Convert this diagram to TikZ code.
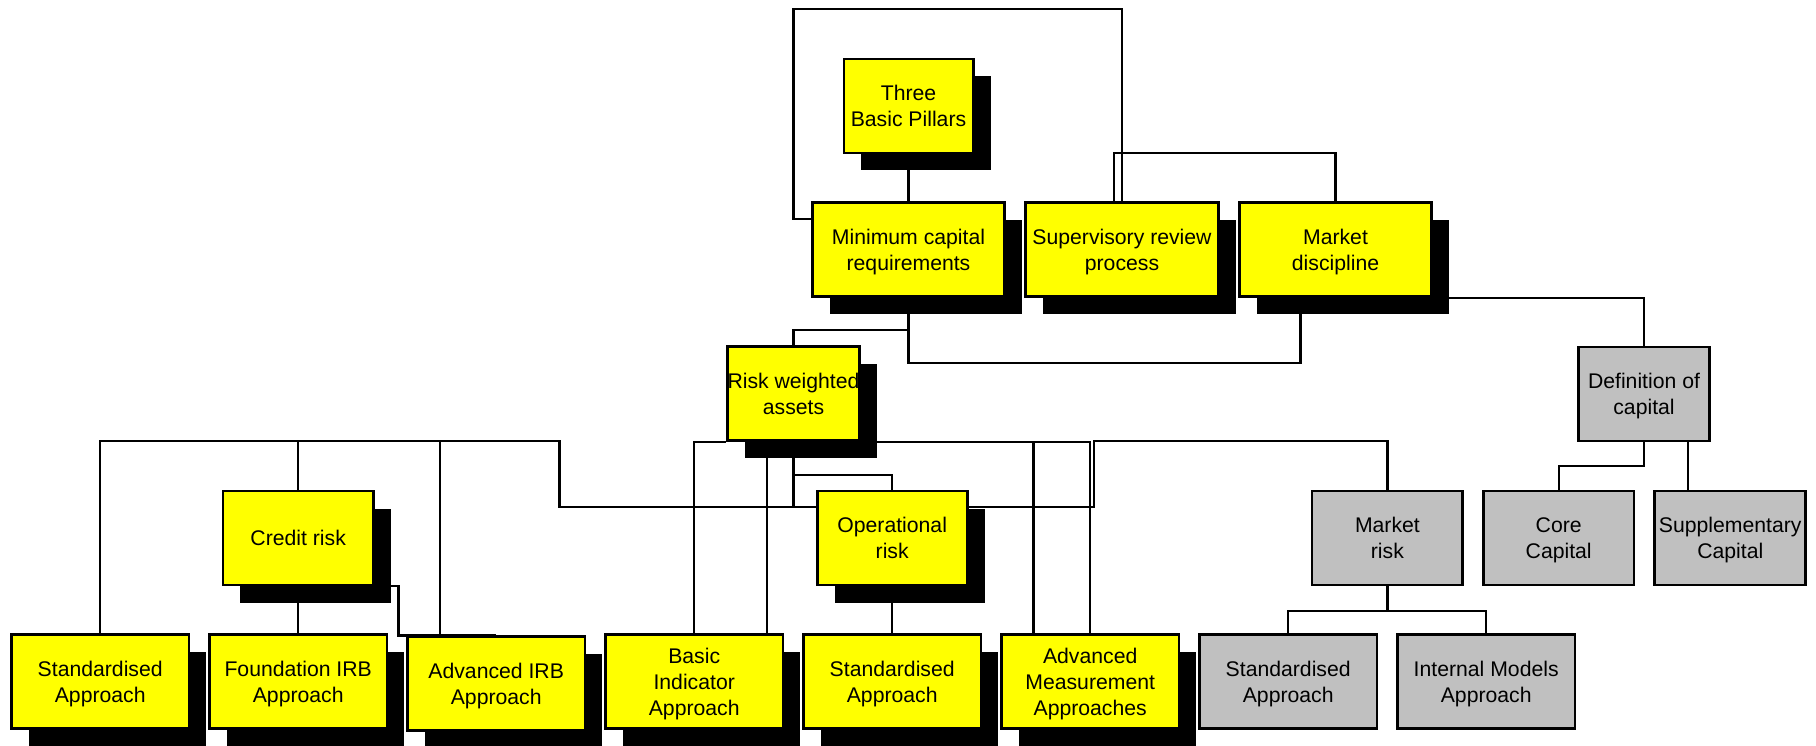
\documentclass[tikz,border=0pt]{standalone}
\usepackage{fontspec}
\setmainfont{Liberation Sans}
\usepackage{tikz}
\usetikzlibrary{positioning,shadows,backgrounds}
\definecolor{pillaryellow}{RGB}{255,255,0}
\definecolor{boxgray}{RGB}{192,192,192}

\begin{document}
\begin{tikzpicture}[
  x=1pt, y=-1pt,
  box/.style={draw, line width=2.6pt, inner sep=0pt, align=center,
              minimum height=94pt, text depth=-8.2pt,
              font=\fontsize{21.2}{26}\selectfont},
  ybox/.style={box, fill=pillaryellow,
               drop shadow={shadow xshift=17.5pt, shadow yshift=-17.5pt,
                            fill=black, opacity=1}},
  gbox/.style={box, fill=boxgray},
  link/.style={line width=2.2pt},
  node distance=18pt]

  \useasboundingbox (0,0) rectangle (1816,746);

  % Pillars
  \node[ybox, minimum width=192.5pt] (mcr) at (908.5,249.7) {Minimum capital\\requirements};
  \node[ybox, minimum width=192.5pt, right=18.4pt of mcr] (spr) {Supervisory review\\process};
  \node[ybox, minimum width=192.5pt, right=18.4pt of spr] (mdi) {Market\\discipline};
  \node[ybox, minimum width=129.4pt, above=47.1pt of mcr] (tbp) {Three\\Basic Pillars};

  \node[ybox, minimum width=131pt] (rwa) at (793.5,393.7) {Risk weighted\\assets};
  \node[gbox, minimum width=131pt] (dfc) at (1644,394) {Definition of\\capital};

  % Approaches (bottom row)
  \node[ybox, minimum width=177.4pt] (sa1) at (100.2,681.7) {Standardised\\Approach};
  \node[ybox, minimum width=177.4pt, right=of sa1] (fir) {Foundation IRB\\Approach};
  \node[ybox, minimum width=177.4pt, right=of fir, yshift=-2pt] (air) {Advanced IRB\\Approach};
  \node[ybox, minimum width=177.4pt, right=of fir, xshift=198pt] (bia) {Basic\\Indicator\\Approach};
  \node[ybox, minimum width=177.4pt, right=of bia] (sa2) {Standardised\\Approach};
  \node[ybox, minimum width=177.4pt, right=of sa2] (ama) {Advanced\\Measurement\\Approaches};
  \node[gbox, minimum width=177.4pt, right=of ama] (sa3) {Standardised\\Approach};
  \node[gbox, minimum width=177.4pt, right=of sa3] (ima) {Internal Models\\Approach};

  % Risk types and capital
  \node[ybox, minimum width=150.5pt, above=47.1pt of fir] (crs) {Credit risk};
  \node[ybox, minimum width=150pt, above=47.1pt of sa2] (opr) {Operational\\risk};
  \node[gbox, minimum width=150.5pt] (mkr) at (1387.4,538) {Market\\risk};
  \node[gbox, minimum width=150.5pt, right=18.2pt of mkr] (cor) {Core\\Capital};
  \node[gbox, minimum width=151pt, right=18.2pt of cor] (sup) {Supplementary\\Capital};

  \coordinate (lbus) at (559.4,441);
  \coordinate (rjog) at (1094,507.3);

  % connectors run behind the boxes
  \begin{scope}[on background layer]
    \draw[link] (tbp.south) -- (mcr.north);
    \draw[link] (mcr.west |- 0,219) -| (793.4,9.3) -| (spr.north);
    \draw[link] ([xshift=-8pt]spr.north) |- (mdi.north |- 0,153.3) -- (mdi.north);
    \draw[link] (mcr.south) |- ([xshift=-35pt]mdi.south |- 0,362.7)
      -- ([xshift=-35pt]mdi.south);
    \draw[link] (mcr.south |- 0,330) -| (rwa.north);
    \draw[link] (mdi.south east) -| (dfc.north);
    \draw[link] (dfc.south) -- ++(0,23.4) -| (cor.north);
    \draw[link] ([xshift=43.6pt]dfc.south) -- ([xshift=43.6pt]dfc.south |- sup.north);
    \draw[link] (mkr.south) -- ++(0,24.3) coordinate (mkb);
    \draw[link] (sa3.north) |- (mkb) -| (ima.north);

    % below the risk weighted assets
    \draw[link] (rwa.south east) -| (ama.north);
    \draw[link] (bia.north) |- (rwa.south west);
    \draw[link] ([xshift=73pt]bia.north) -- ([xshift=73pt]bia.north |- rwa.south);
    \draw[link] (rwa.south) -- (rwa.south |- rjog);
    \draw[link] ([yshift=-32.6pt]rwa.south) -| (opr.north);
    \draw[link] ([xshift=-56.7pt]ama.north) -- ([xshift=-56.7pt]ama.north |- rwa.south);
    \draw[link] (opr.south) -- (sa2.north);
    \draw[link] (sa1.north) |- (lbus) |- (rjog) -- (rjog |- lbus) -| (mkr.north);

    % credit risk branch
    \draw[link] (crs.north) -- (crs.north |- lbus);
    \draw[link] ([xshift=-56.3pt]air.north) -- ([xshift=-56.3pt]air.north |- lbus);
    \draw[link] (crs.south) -- (fir.north);
    \draw[link] (crs.south east) -- ++(23.7,0) |- (air.north);
  \end{scope}
\end{tikzpicture}
\end{document}
